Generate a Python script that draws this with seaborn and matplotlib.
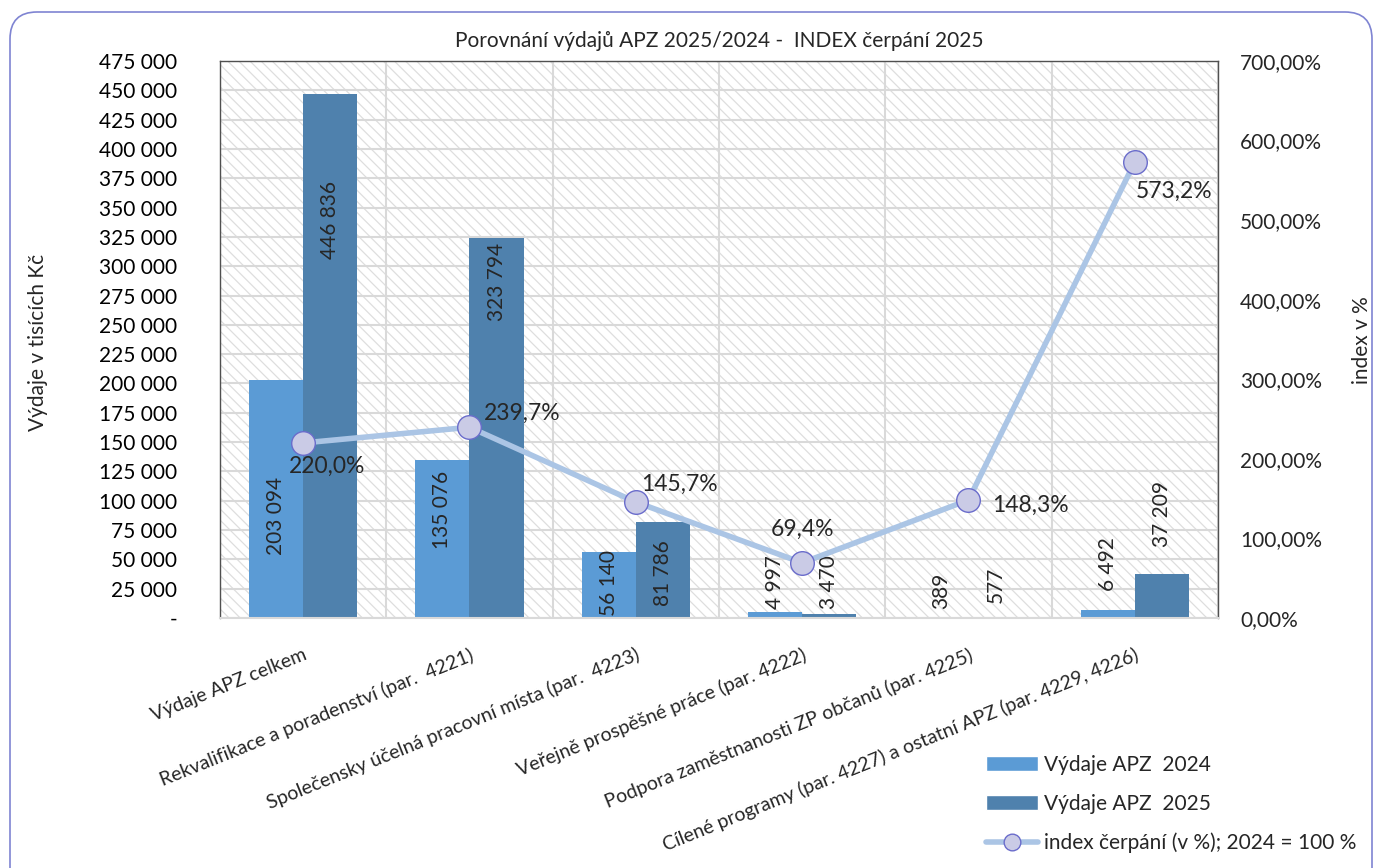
import numpy as np
import pandas as pd
import matplotlib
matplotlib.use("Agg")
import matplotlib.pyplot as plt
import seaborn as sns
from matplotlib.ticker import FuncFormatter, FixedLocator, MultipleLocator
from matplotlib.patches import Rectangle, FancyBboxPatch, Patch
from matplotlib.lines import Line2D

sns.set_style("white")
plt.rcParams['font.family'] = ['Lato', 'DejaVu Sans']
plt.rcParams['hatch.linewidth'] = 0.9

# data
categories = ['Výdaje APZ celkem',
              'Rekvalifikace a poradenství (par.  4221)',
              'Společensky účelná pracovní místa (par.  4223)',
              'Veřejně prospěšné práce (par. 4222)',
              'Podpora zaměstnanosti ZP občanů (par. 4225)',
              'Cílené programy (par. 4227) a ostatní APZ (par. 4229, 4226)']
vydaje_2024 = [203094, 135076, 56140, 4997, 389, 6492]
vydaje_2025 = [446836, 323794, 81786, 3470, 577, 37209]
index_2025 = [220.0, 239.7, 145.7, 69.4, 148.3, 573.2]
series_names = ['Výdaje APZ  2024', 'Výdaje APZ  2025']
index_name = 'index čerpání (v %); 2024 = 100 %'
title = 'Porovnání výdajů APZ 2025/2024 -  INDEX čerpání 2025'

# where the value labels sit (label centre, in thousands Kč)
lab_y_2024 = [87000, 92000, 30000, 31000, 23000, 46000]
lab_y_2025 = [339000, 287000, 38000, 31000, 28000, 89000]
# offsets (points) and alignment of the index labels
idx_offsets = [(17, -17, 'center'), (10, 10, 'left'), (4, 13, 'left'),
               (0, 24, 'center'), (17, -4, 'left'), (1, -21, 'left')]

c24 = '#5b9bd5'
c25 = '#4f81ad'
c_line = '#abc5e5'
c_mface = '#cacbe6'
c_medge = '#6a6ccb'
c_grid = '#d9d9d9'

df = pd.DataFrame({
    'kategorie': categories * 2,
    'vydaje': vydaje_2024 + vydaje_2025,
    'rok': [series_names[0]] * 6 + [series_names[1]] * 6,
})

fig = plt.figure(figsize=(13.75, 8.68), dpi=100)
ax = fig.add_axes([220/1375, 250/868, 998/1375, 557/868])

# hatched plot background
ax.add_patch(Rectangle((0, 0), 1, 1, transform=ax.transAxes, facecolor='white',
                       edgecolor='#dedede', hatch='\\\\\\', lw=0, zorder=0))

sns.barplot(data=df, x='kategorie', y='vydaje', hue='rok', palette=[c24, c25],
            width=0.65, gap=0, saturation=1, linewidth=0, legend=False, ax=ax,
            zorder=2)

ax.set_xlim(-0.5, 5.5)
ax.set_ylim(0, 475000)
ax.yaxis.set_major_locator(MultipleLocator(25000))
ax.yaxis.set_major_formatter(FuncFormatter(
    lambda v, p: '-' if v == 0 else f'{int(v):,}'.replace(',', ' ')))
ax.tick_params(axis='y', length=0, pad=31, labelsize=15, colors='black')

ax.set_axisbelow(True)
ax.yaxis.grid(True, color=c_grid, lw=1.5)
ax.xaxis.set_minor_locator(FixedLocator(np.arange(-0.5, 6, 1)))
ax.grid(which='minor', axis='x', color=c_grid, lw=1.5)
ax.tick_params(axis='x', which='minor', length=7, width=1.5, color=c_grid, direction='out')
ax.tick_params(axis='x', which='major', length=0, pad=20)
ax.set_xticks(range(len(categories)))
ax.set_xticklabels(categories, rotation=22, ha='right', rotation_mode='anchor', fontsize=14)
ax.set_xlabel('')
ax.set_ylabel('')

for s in ['left', 'top', 'right']:
    ax.spines[s].set_color('#505050')
    ax.spines[s].set_linewidth(1)
ax.spines['bottom'].set_color(c_grid)
ax.spines['bottom'].set_linewidth(1.5)

# bar value labels
for cont, vals, ly in zip(ax.containers, [vydaje_2024, vydaje_2025], [lab_y_2024, lab_y_2025]):
    for bar, v, y in zip(cont.patches, vals, ly):
        ax.text(bar.get_x() + bar.get_width() / 2, y, f'{v:,}'.replace(',', ' '),
                rotation=90, ha='center', va='center', fontsize=15, zorder=5)

ax.set_title(title, fontsize=15, pad=10)

# index line on secondary axis
ax2 = ax.twinx()
xs = np.arange(len(categories))
sns.lineplot(x=xs, y=index_2025, ax=ax2, color=c_line, lw=4, marker='o',
             markersize=17, markerfacecolor=c_mface, markeredgecolor=c_medge,
             markeredgewidth=1, zorder=3)
ax2.set_xlim(-0.5, 5.5)
ax2.set_ylim(0, 700)
ax2.yaxis.set_major_locator(MultipleLocator(100))
ax2.yaxis.set_major_formatter(FuncFormatter(lambda v, p: f'{v:.2f}'.replace('.', ',') + '%'))
ax2.tick_params(axis='y', length=0, pad=16, labelsize=15)
for s in ax2.spines.values():
    s.set_visible(False)

for x, v, (dx, dy, ha) in zip(xs, index_2025, idx_offsets):
    ax2.annotate(f'{v:.1f}'.replace('.', ',') + '%', (x, v), xytext=(dx, dy),
                 textcoords='offset points', ha=ha, va='center', fontsize=16.5)

fig.text(38/1375, 1 - 342/868, 'Výdaje v tisících Kč', rotation=90,
         ha='center', va='center', fontsize=15)
fig.text(1362/1375, 1 - 340/868, 'index v %', rotation=90,
         ha='center', va='center', fontsize=15)

handles = [Patch(facecolor=c24, label=series_names[0]),
           Patch(facecolor=c25, label=series_names[1]),
           Line2D([], [], color=c_line, lw=4, marker='o', markersize=12,
                  markerfacecolor=c_mface, markeredgecolor=c_medge, label=index_name)]
fig.legend(handles=handles, loc='upper left', bbox_to_anchor=(986/1375, 1 - 755/868),
           frameon=False, fontsize=15, handlelength=2.5, handletextpad=0.3,
           labelspacing=0.9, borderpad=0, borderaxespad=0)

# rounded outer frame
fig.patches.append(FancyBboxPatch((0.1, -0.5), 13.62, 9.06,
                                  boxstyle='round,pad=0,rounding_size=0.27',
                                  transform=fig.dpi_scale_trans, fill=False,
                                  edgecolor='#7f84d2', lw=1.2))

fig.savefig('out.png', dpi=100)
